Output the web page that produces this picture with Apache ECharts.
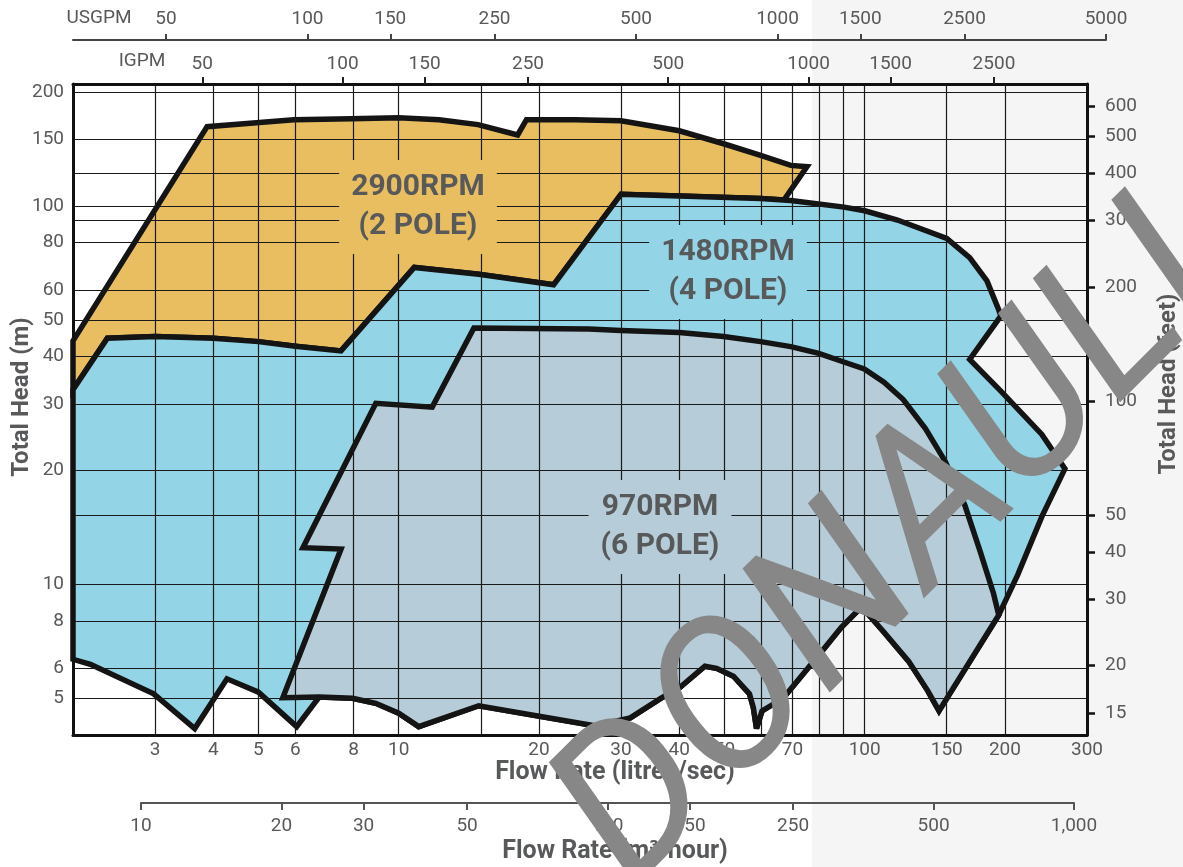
<!DOCTYPE html>
<html>
<head>
<meta charset="utf-8">
<script src="https://cdn.jsdelivr.net/npm/echarts@6/dist/echarts.min.js"></script>
<style>
html,body{margin:0;padding:0;background:#ffffff;}
#chart{width:1183px;height:867px;}
</style>
</head>
<body>
<div id="chart"></div>
<script>
// ---------------- DATA (flow in litres/sec, head in metres) ----------------
// 2900 RPM (2 pole) - upper boundary of the operating envelope
const rpm2900Top = [
  [2.0,44],[3.88,162],[4.95,166],[5.96,169],[7.9,170],[10,171],[12.2,169],[14.8,164],
  [18.0,154],[18.8,169],[23.9,169],[30,168],[40,158],[49.8,146],[59.8,136],[69.4,128],
  [75.2,127],[67.1,103.7]
];
// 1480 RPM (4 pole) - upper / right boundary
const rpm1480Top = [
  [2.0,32.7],[2.37,44.7],[3.0,45.2],[4.0,44.7],[5.0,43.8],[6.0,42.6],[7.52,41.4],
  [10.8,68.8],[14.85,66.0],[21.5,61.9],[30,107.4],[40,106.3],[59.8,104.7],[69.4,103.4],
  [90.3,99.3],[100,97.1],[117.6,91.8],[150,82.1],[168,73.0],[183,63.4],[194,53.1],
  [196,51.2],[168,39.3],[196,32.4],[240,24.9],[269,20.2],[240,15.1],[213,10.6],[194,8.3]
];
// 1480 RPM - lower left boundary
const rpm1480BottomLeft = [
  [6.04,4.21],[5.0,5.19],[4.28,5.63],[3.65,4.16],[2.98,5.14],[2.18,6.15],[2.0,6.34]
];
// 970 RPM (6 pole) - left / upper / right boundary
const rpm970Top = [
  [5.64,5.02],[7.52,12.4],[6.23,12.5],[8.93,30.1],[11.8,29.4],[14.5,47.6],[25.6,47.3],
  [30,46.9],[40,46.3],[49.8,45.2],[59.8,43.8],[69.4,42.5],[79.7,40.8],[90.2,38.7],
  [99.8,37.1],[110,34.2],[121,30.8],[135,25.8],[149,21.1],[164,16.2],[177,12.2],
  [189,9.46],[194,8.3]
];
// 970 RPM - lower boundary (right to left)
const rpm970Bottom = [
  [144.4,4.63],[136.5,5.24],[124.2,6.27],[109.8,7.5],[98.5,8.73],[89.1,7.7],[81.2,6.69],
  [66.9,5.01],[60.2,4.63],[58.6,4.16],[57.7,4.72],[56.6,5.14],[52.3,5.72],[48.1,6.0],
  [45.4,6.08],[40.1,5.34],[36.5,5.0],[31.4,4.44],[26.3,4.23],[14.85,4.78],[11.04,4.21],
  [10,4.57],[8.93,4.85],[7.96,5.0],[6.75,5.04]
];

// Axis ticks / labels
const flowLabels = [3,4,5,6,8,10,20,30,40,50,70,100,150,200,300];
const flowGrid   = [3,4,5,6,8,10,15,20,30,40,50,60,70,80,90,100,150,200];
const headLabelsM  = [5,6,8,10,20,30,40,50,60,80,100,150,200];
const headLabelsFt = [15,20,30,40,50,100,200,300,400,500,600];
const headGridFt   = [50,300,400];
const usgpmLabels = [50,100,150,250,500,1000,1500,2500,5000];
const igpmLabels  = [50,100,150,250,500,1000,1500,2500];
const m3hLabels   = [10,20,30,50,100,150,250,500,1000];

// Unit conversions
const LPS_TO_USGPM = 15.8503, LPS_TO_IGPM = 13.1981, M_TO_FT = 3.28084;
const FLOW_MIN = 2, FLOW_MAX = 300, HEAD_MIN = 4, HEAD_MAX = 210;

// ---------------- BUILD ----------------
const poly2900 = rpm2900Top.concat(rpm1480Top.slice(0, 13).reverse());
const poly1480 = rpm1480Top.concat(rpm970Bottom, rpm1480BottomLeft);
const poly970  = rpm970Top.concat(rpm970Bottom);
const headGridM = headLabelsM.concat(headGridFt.map(f => f / M_TO_FT)).sort((a, b) => a - b);

const FONT = 'Roboto';
const LABEL_COLOR = '#58595b';
const tickFont = {color: LABEL_COLOR, fontSize: 19, fontFamily: FONT};

function region(name, pts, fill) {
  return {
    type: 'custom', name: name, coordinateSystem: 'cartesian2d',
    xAxisIndex: 0, yAxisIndex: 0, data: pts, z: 1, clip: false, silent: true,
    renderItem: function (params, api) {
      if (params.dataIndex !== 0) return null;
      return {
        type: 'polygon',
        shape: {points: pts.map(p => api.coord(p))},
        style: {fill: fill, stroke: '#141414', lineWidth: 5.5, lineJoin: 'miter', miterLimit: 4}
      };
    }
  };
}

function regionLabel(text, x, y, bg) {
  return {
    type: 'text', x: x, y: y, z: 10, silent: true,
    style: {
      text: text, fontSize: 30, fontWeight: 'bold', fontFamily: FONT, fill: LABEL_COLOR,
      align: 'center', verticalAlign: 'middle', lineHeight: 39,
      backgroundColor: bg, padding: [8, 12]
    }
  };
}
function title(text, x, y, rot, size, weight) {
  return {
    type: 'text', x: x, y: y, rotation: rot || 0, z: 10, silent: true,
    style: {text: text, fontSize: size, fontWeight: weight, fontFamily: FONT, fill: LABEL_COLOR,
            align: 'center', verticalAlign: 'middle'}
  };
}

const plain = v => String(Math.round(v));
const chart = echarts.init(document.getElementById('chart'), null, {renderer: 'canvas'});
chart.setOption({
  animation: false,
  backgroundColor: '#ffffff',
  textStyle: {fontFamily: FONT},
  grid: [
    {left: 73, right: 96, top: 84, bottom: 132, show: false, outerBoundsMode: 'none'},
    {left: 73, width: 1033, top: 39, height: 1, show: false, outerBoundsMode: 'none'},
    {left: 141, width: 933, top: 802, height: 1, show: false, outerBoundsMode: 'none'}
  ],
  xAxis: [
    { // litres/sec (bottom of plot)
      type: 'log', logBase: 10, gridIndex: 0, position: 'bottom', min: FLOW_MIN, max: FLOW_MAX, z: 3,
      axisLine: {show: true, lineStyle: {color: '#111', width: 3}},
      axisTick: {show: false, customValues: flowGrid},
      axisLabel: Object.assign({customValues: flowLabels, formatter: plain, margin: 6}, tickFont),
      splitLine: {show: true, lineStyle: {color: '#1a1a1a', width: 1.2}}
    },
    { // IGPM (top of plot)
      type: 'log', logBase: 10, gridIndex: 0, position: 'top',
      min: FLOW_MIN * LPS_TO_IGPM, max: FLOW_MAX * LPS_TO_IGPM, z: 3,
      axisLine: {show: true, lineStyle: {color: '#111', width: 3}},
      axisTick: {show: true, inside: false, length: 7, customValues: igpmLabels, lineStyle: {color: '#222', width: 2}},
      axisLabel: Object.assign({customValues: igpmLabels, formatter: plain, margin: 10}, tickFont),
      splitLine: {show: false}
    },
    { // USGPM (separate scale line)
      type: 'log', logBase: 10, gridIndex: 1, position: 'top',
      min: FLOW_MIN * LPS_TO_USGPM, max: 5000, z: 3,
      axisLine: {show: true, lineStyle: {color: '#444', width: 2}},
      axisTick: {show: true, inside: false, length: 6, customValues: usgpmLabels, lineStyle: {color: '#444', width: 2}},
      axisLabel: Object.assign({customValues: usgpmLabels, formatter: plain, margin: 10}, tickFont),
      splitLine: {show: false}
    },
    { // m3/hour (separate scale line)
      type: 'log', logBase: 10, gridIndex: 2, position: 'bottom', min: 10, max: 1000, z: 3,
      axisLine: {show: true, lineStyle: {color: '#555', width: 2}},
      axisTick: {show: true, inside: false, length: 7, customValues: m3hLabels, lineStyle: {color: '#555', width: 2}},
      axisLabel: Object.assign({customValues: m3hLabels, margin: 14,
        formatter: v => Math.round(v).toLocaleString('en-US')}, tickFont),
      splitLine: {show: false}
    }
  ],
  yAxis: [
    { // metres (left)
      type: 'log', logBase: 10, gridIndex: 0, position: 'left', min: HEAD_MIN, max: HEAD_MAX, z: 3,
      axisLine: {show: true, lineStyle: {color: '#111', width: 3}},
      axisTick: {show: false, customValues: headGridM},
      axisLabel: Object.assign({customValues: headLabelsM, formatter: plain, margin: 9}, tickFont),
      splitLine: {show: true, lineStyle: {color: '#1a1a1a', width: 1.2}}
    },
    { // feet (right)
      type: 'log', logBase: 10, gridIndex: 0, position: 'right',
      min: HEAD_MIN * M_TO_FT, max: HEAD_MAX * M_TO_FT, z: 3,
      axisLine: {show: true, lineStyle: {color: '#111', width: 3}},
      axisTick: {show: true, inside: false, length: 8, customValues: headLabelsFt, lineStyle: {color: '#111', width: 2.5}},
      axisLabel: Object.assign({customValues: headLabelsFt, formatter: plain, margin: 18}, tickFont),
      splitLine: {show: false}
    },
    {type: 'value', gridIndex: 1, show: false},
    {type: 'value', gridIndex: 2, show: false}
  ],
  graphic: [
    {type: 'rect', z: -10, silent: true, shape: {x: 812, y: 0, width: 371, height: 867}, style: {fill: '#f5f5f5'}},
    regionLabel('2900RPM\n(2 POLE)', 418, 207, '#E9BE60'),
    regionLabel('1480RPM\n(4 POLE)', 728, 272, '#93D5E6'),
    regionLabel('970RPM\n(6 POLE)', 660, 527, '#B6CDD9'),
    title('Total Head (m)', 22, 397, Math.PI / 2, 24, 'bold'),
    title('Total Head (feet)', 1169, 384, Math.PI / 2, 24, 'bold'),
    title('Flow Rate (litres/sec)', 615, 773, 0, 25, 'bold'),
    title('Flow Rate (m\u00B3/hour)', 615, 852, 0, 25, 'bold'),
    title('USGPM', 99, 18, 0, 19, 'normal'),
    title('IGPM', 142, 61, 0, 19, 'normal'),
    {
      type: 'text', x: 895, y: 553, rotation: Math.PI / 4, z: 50, silent: true,
      style: {text: 'DONAULI', fontSize: 210, fontFamily: FONT, fontStyle: 'italic',
              fill: '#878787', align: 'center', verticalAlign: 'middle'}
    }
  ],
  series: [
    region('2900RPM (2 POLE)', poly2900, '#E9BE60'),
    region('1480RPM (4 POLE)', poly1480, '#93D5E6'),
    region('970RPM (6 POLE)', poly970, '#B6CDD9')
  ]
});
</script>
</body>
</html>
